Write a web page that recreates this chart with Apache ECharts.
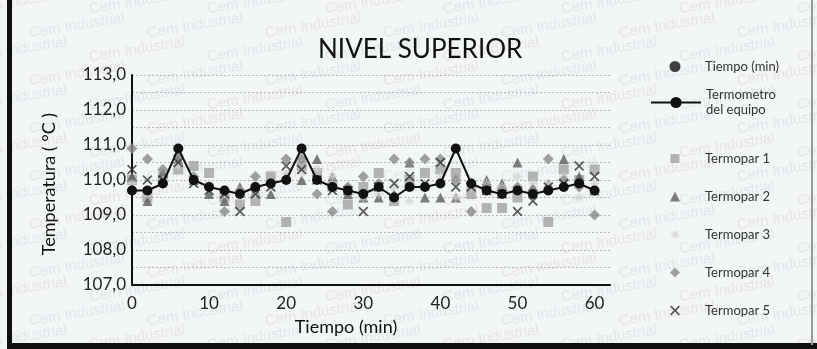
<!DOCTYPE html>
<html>
<head>
<meta charset="utf-8">
<script src="https://cdn.jsdelivr.net/npm/echarts@6/dist/echarts.min.js"></script>
<style>
  html, body { margin: 0; padding: 0; background: #f3f6f6; }
  #chart { width: 817px; height: 349px; }
</style>
</head>
<body>
<div id="chart"></div>
<script>
// Sampling times (min)
const tiempo = [0, 2, 4, 6, 8, 10, 12, 14, 16, 18, 20, 22, 24, 26, 28, 30,
                32, 34, 36, 38, 40, 42, 44, 46, 48, 50, 52, 54, 56, 58, 60];

// Equipment thermometer (°C)
const termometro = [109.7, 109.7, 109.9, 110.9, 110.0, 109.8, 109.7, 109.6, 109.8, 109.9, 110.0,
                    110.9, 110.0, 109.8, 109.7, 109.6, 109.8, 109.5, 109.8, 109.8, 109.9,
                    110.9, 109.9, 109.7, 109.6, 109.7, 109.6, 109.7, 109.8, 109.9, 109.7];

// Thermocouples (°C)
const termopar1 = [110.0, 109.5, 110.1, 110.3, 110.4, 110.2, 109.5, 109.3, 109.4, 110.1, 108.8,
                   110.4, 110.2, 109.8, 109.3, 109.8, 110.2, 109.4, 110.0, 110.2, 110.3,
                   110.2, 109.6, 109.2, 109.2, 109.5, 110.1, 108.8, 110.3, 110.0, 110.3];
const termopar2 = [110.1, 109.4, 110.2, 110.6, 110.0, 109.6, 109.4, 109.8, 109.7, 109.6, 110.1,
                   110.0, 110.6, 110.1, 109.6, 109.5, 109.5, 109.6, 110.5, 109.5, 109.5,
                   109.5, 109.9, 110.0, 109.9, 110.5, 109.8, 109.9, 110.6, 110.1, 109.7];
const termopar3 = [109.9, 109.6, 110.0, 110.4, 110.1, 109.9, 109.6, 109.7, 109.6, 109.8, 110.2,
                   110.2, 110.3, 110.1, 109.8, 109.5, 109.6, 109.8, 109.4, 109.9, 110.1,
                   109.5, 109.8, 109.9, 109.8, 110.1, 109.9, 109.9, 110.1, 109.5, 109.9];
const termopar4 = [110.9, 110.6, 110.3, 110.7, 110.1, 109.8, 109.1, 109.7, 110.1, 109.9, 110.6,
                   110.6, 109.6, 109.1, 109.8, 110.1, 109.9, 110.6, 110.5, 110.6, 110.6,
                   110.0, 109.1, 109.8, 109.7, 109.8, 109.7, 110.6, 110.0, 109.8, 109.0];
const termopar5 = [110.3, 110.0, 110.0, 110.5, 109.9, 109.7, 109.6, 109.1, 109.6, 109.8, 110.4,
                   110.3, 110.0, 109.7, 109.7, 109.1, 109.8, 109.9, 110.1, 109.9, 110.5,
                   109.8, 109.8, 109.7, 109.6, 109.1, 109.4, 109.8, 109.9, 110.4, 110.1];

const xTicks = [0, 10, 20, 30, 40, 50, 60];
const yTicks = [107, 108, 109, 110, 111, 112, 113];

const pairs = arr => tiempo.map((t, i) => [t, arr[i]]);

const FONT = 'Lato';
const SYM_X = 'path://M0,1.2 L1.2,0 L10,8.8 L8.8,10 Z M8.8,0 L10,1.2 L1.2,10 L0,8.8 Z';
const SYM_STAR = 'path://M4.3,0 h1.4 v10 h-1.4 Z M0,4.3 h10 v1.4 h-10 Z M1,1.9 L1.9,1 L9,8.1 L8.1,9 Z M8.1,1 L9,1.9 L1.9,9 L1,8.1 Z';

// faint "Cem Industrial" stamp pattern over the sheet
const stamps = [];
for (let r = 0; r < 15; r++) {
  for (let c = 0; c < 8; c++) {
    stamps.push({
      type: 'text',
      silent: true,
      z: -10,
      x: c * 118 + (r % 2) * 58 - 30,
      y: r * 24 + 2,
      rotation: 0.16,
      style: {
        text: 'Cem Industrial',
        font: '15px "Liberation Sans"',
        fill: (r + c) % 3 === 0 ? 'rgba(200,150,175,0.22)' : 'rgba(140,180,186,0.22)'
      }
    });
  }
}

// sheet border
const frame = [
  { type: 'rect', silent: true, shape: { x: 7, y: 0, width: 5, height: 349 }, style: { fill: '#111' } },
  { type: 'rect', silent: true, shape: { x: 7, y: 343, width: 810, height: 6 }, style: { fill: '#111' } },
  { type: 'rect', silent: true, shape: { x: 811, y: 0, width: 2, height: 345 }, style: { fill: '#9a9a9a' } }
];

// one legend block per entry: icon centred at x=675, label starting at x=705
const ICON_CX = 675;
const TEXT_X = 705;
function legendFor(name, top, size) {
  const left = ICON_CX - size / 2;
  const padLeft = TEXT_X - (left + size + 5);
  return {
    data: [name],
    orient: 'vertical',
    left: left,
    top: top,
    padding: 0,
    itemWidth: size,
    itemHeight: size,
    selectedMode: false,
    textStyle: { fontFamily: FONT, fontSize: 13, color: '#333', lineHeight: 15, padding: [0, 0, 0, padLeft] }
  };
}

const chart = echarts.init(document.getElementById('chart'), null, { renderer: 'canvas' });

chart.setOption({
  backgroundColor: '#f3f6f6',
  animation: false,
  title: {
    text: 'NIVEL SUPERIOR',
    left: 318,
    top: 37,
    padding: 0,
    textStyle: { fontFamily: FONT, fontSize: 26, fontWeight: 'normal', color: '#111' }
  },
  legend: [
    legendFor('Tiempo (min)', 59, 11),
    {
      data: ['Termometro del equipo'],
      orient: 'vertical',
      left: 650,
      top: 80,
      padding: 0,
      itemWidth: 50,
      itemHeight: 14,
      selectedMode: false,
      formatter: () => 'Termometro\ndel equipo',
      textStyle: { fontFamily: FONT, fontSize: 13, color: '#333', lineHeight: 15, padding: [15, 0, 0, 0] }
    },
    legendFor('Termopar 1', 151, 9),
    legendFor('Termopar 2', 189, 10),
    legendFor('Termopar 3', 227, 9),
    legendFor('Termopar 4', 265, 10),
    legendFor('Termopar 5', 303, 10)
  ],
  grid: { left: 132, right: 207, top: 75, bottom: 64, containLabel: false },
  xAxis: {
    type: 'value',
    min: xTicks[0],
    max: 62,
    interval: 10,
    name: 'Tiempo (min)',
    nameLocation: 'middle',
    nameGap: 33,
    nameTextStyle: { fontFamily: FONT, fontSize: 18, color: '#111', padding: [0, 50, 0, 0] },
    axisLine: { show: true, onZero: false, lineStyle: { color: '#111', width: 2 } },
    axisTick: { show: false },
    splitLine: { show: false },
    axisLabel: {
      showMaxLabel: false,
      margin: 10,
      fontFamily: FONT, fontSize: 17, color: '#222',
      formatter: v => (xTicks.indexOf(v) >= 0 ? String(v) : '')
    }
  },
  yAxis: {
    type: 'value',
    min: yTicks[0],
    max: yTicks[yTicks.length - 1],
    interval: 1,
    name: 'Temperatura ( °C )',
    nameLocation: 'middle',
    nameRotate: 90,
    nameGap: 74,
    nameTextStyle: { fontFamily: FONT, fontSize: 18, color: '#111', padding: [0, 0, 0, -8] },
    axisLine: { show: true, lineStyle: { color: '#111', width: 2 } },
    axisTick: { show: false },
    axisLabel: {
      margin: 6,
      fontFamily: FONT, fontSize: 17, color: '#222',
      formatter: v => v.toFixed(1).replace('.', ',')
    },
    splitLine: { show: true, lineStyle: { color: '#b5b5b5', width: 1, type: [2, 2] } },
    minorTick: { show: false, splitNumber: 2 },
    minorSplitLine: { show: true, lineStyle: { color: '#b5b5b5', width: 1, type: [2, 2] } }
  },
  series: [
    {
      name: 'Tiempo (min)',
      type: 'scatter',
      symbol: 'circle',
      symbolSize: 10,
      itemStyle: { color: '#111' },
      data: []
    },
    {
      name: 'Termopar 1',
      type: 'scatter',
      symbol: 'rect',
      symbolSize: 10,
      z: 2,
      itemStyle: { color: '#a3a3a3' },
      data: pairs(termopar1)
    },
    {
      name: 'Termopar 2',
      type: 'scatter',
      symbol: 'triangle',
      symbolSize: 10,
      z: 3,
      itemStyle: { color: '#5c5c5c' },
      data: pairs(termopar2)
    },
    {
      name: 'Termopar 3',
      type: 'scatter',
      symbol: SYM_STAR,
      symbolSize: 9,
      z: 3,
      itemStyle: { color: '#d2d2d2' },
      data: pairs(termopar3)
    },
    {
      name: 'Termopar 4',
      type: 'scatter',
      symbol: 'diamond',
      symbolSize: 11,
      z: 3,
      itemStyle: { color: '#8a8a8a' },
      data: pairs(termopar4)
    },
    {
      name: 'Termopar 5',
      type: 'scatter',
      symbol: SYM_X,
      symbolSize: 10,
      z: 4,
      itemStyle: { color: '#333' },
      data: pairs(termopar5)
    },
    {
      name: 'Termometro del equipo',
      type: 'line',
      symbol: 'circle',
      symbolSize: 10,
      z: 6,
      lineStyle: { color: '#111', width: 2 },
      itemStyle: { color: '#111' },
      data: pairs(termometro)
    }
  ],
  graphic: stamps.concat(frame)
});
</script>
</body>
</html>
